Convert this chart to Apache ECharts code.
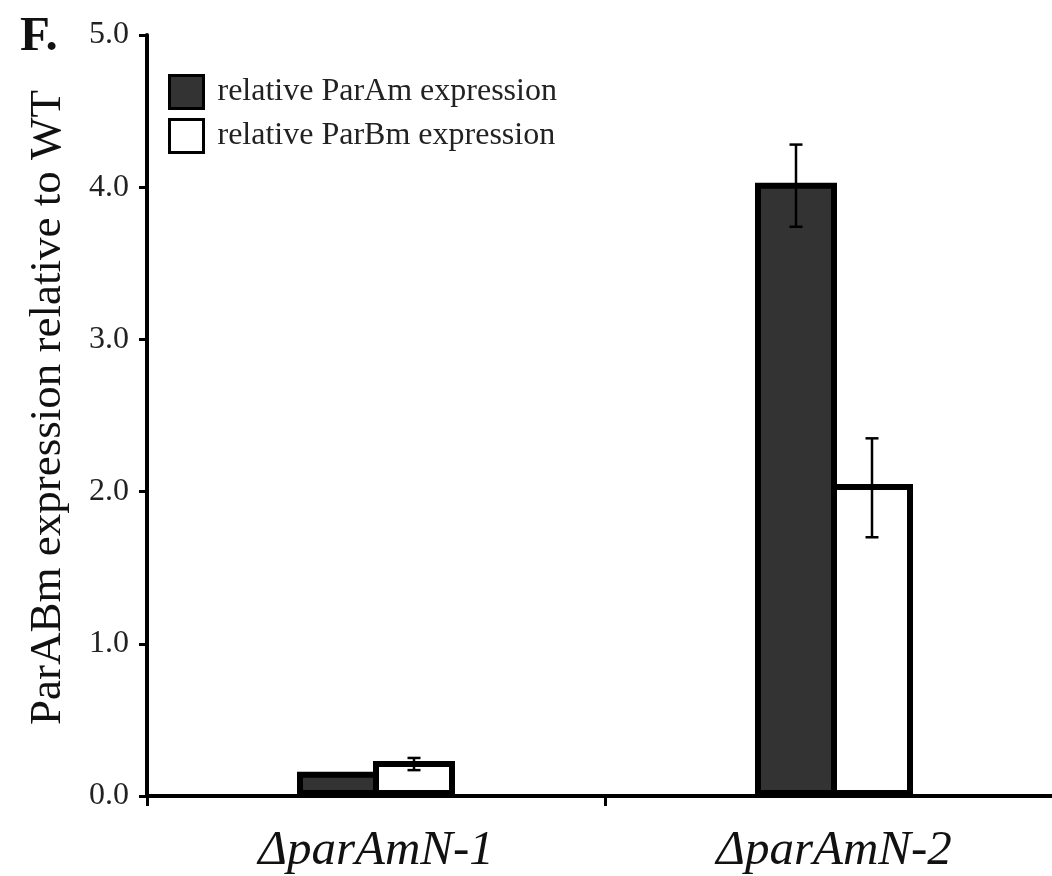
<!DOCTYPE html>
<html>
<head>
<meta charset="utf-8">
<title>ParABm expression</title>
<script src="https://cdn.jsdelivr.net/npm/echarts@6/dist/echarts.min.js"></script>
</head>
<body style="margin:0;background:#fff;overflow:hidden">
<!-- the x axis runs a little past the right edge of the figure, so the canvas is wider than the window -->
<div id="main" style="width:1063px;height:876px;"></div>
<script>
// data
var strains = ['\u0394parAmN-1', '\u0394parAmN-2'];
var parAm = [0.16, 4.03];
var parAmLow = [null, 3.74];
var parAmHigh = [null, 4.28];
var parBm = [0.23, 2.05];
var parBmLow = [0.17, 1.70];
var parBmHigh = [0.25, 2.35];
var yTicks = [0, 1, 2, 3, 4, 5];

var BAR_W = 82;
var FONT = "'Liberation Serif', 'DejaVu Serif', serif";

function errData(lows, highs) {
    var out = [];
    lows.forEach(function (lo, i) {
        if (lo != null) out.push([i, lo, highs[i]]);
    });
    return out;
}

// whisker drawn at the bar centre (shift = +-half bar width)
function errRenderer(shift) {
    return function (params, api) {
        var lo = api.coord([api.value(0), api.value(1)]);
        var hi = api.coord([api.value(0), api.value(2)]);
        var x = lo[0] + shift, cap = 6.5;
        var st = { stroke: '#000', lineWidth: 2.5 };
        return {
            type: 'group',
            children: [
                { type: 'line', shape: { x1: x, y1: lo[1], x2: x, y2: hi[1] }, style: st },
                { type: 'line', shape: { x1: x - cap, y1: hi[1], x2: x + cap, y2: hi[1] }, style: st },
                { type: 'line', shape: { x1: x - cap, y1: lo[1], x2: x + cap, y2: lo[1] }, style: st }
            ]
        };
    };
}

var chart = echarts.init(document.getElementById('main'));
chart.setOption({
    backgroundColor: '#fff',
    animation: false,
    title: {
        text: 'F.',
        left: 15, top: 8,
        textStyle: { fontFamily: FONT, fontSize: 49, fontWeight: 'bold', color: '#111' }
    },
    legend: {
        orient: 'vertical',
        left: 168, top: 74, padding: 0,
        itemWidth: 34, itemHeight: 33, itemGap: 8,
        icon: 'rect',
        itemStyle: { borderWidth: 3, borderColor: '#000' },
        textStyle: { fontFamily: FONT, fontSize: 32, color: '#222', padding: [0, 0, 0, 9] },
        data: ['relative ParAm expression', 'relative ParBm expression']
    },
    grid: { left: 147, top: 35, bottom: 78.5, right: 0 },
    xAxis: {
        type: 'category',
        data: strains,
        axisLine: { lineStyle: { color: '#000', width: 4 } },
        axisTick: { show: true, length: 10, lineStyle: { color: '#000', width: 3 } },
        axisLabel: { margin: 31, fontFamily: FONT, fontStyle: 'italic', fontSize: 49, color: '#111' }
    },
    yAxis: {
        type: 'value',
        min: yTicks[0], max: yTicks[yTicks.length - 1], interval: 1,
        name: 'ParABm expression relative to WT',
        nameLocation: 'middle',
        nameGap: 76,
        nameTextStyle: { fontFamily: FONT, fontSize: 45, color: '#111', padding: [0, 0, 0, 16] },
        axisLine: { show: true, lineStyle: { color: '#000', width: 4 } },
        axisTick: { show: true, length: 8, lineStyle: { color: '#000', width: 3 } },
        splitLine: { show: false },
        axisLabel: {
            margin: 18, fontFamily: FONT, fontSize: 32, color: '#222',
            formatter: function (v) { return v.toFixed(1); }
        }
    },
    series: [
        {
            name: 'relative ParAm expression', type: 'bar', data: parAm,
            barWidth: BAR_W, barGap: '-7.3%',
            itemStyle: { color: '#333', borderColor: '#000', borderWidth: 6 }
        },
        {
            name: 'relative ParBm expression', type: 'bar', data: parBm,
            barWidth: BAR_W, barGap: '-7.3%',
            itemStyle: { color: '#fff', borderColor: '#000', borderWidth: 6 }
        },
        {
            type: 'custom', data: errData(parAmLow, parAmHigh), z: 10,
            renderItem: errRenderer(-BAR_W / 2 + 3), silent: true
        },
        {
            type: 'custom', data: errData(parBmLow, parBmHigh), z: 10,
            renderItem: errRenderer(BAR_W / 2 - 3), silent: true
        }
    ]
});
</script>
</body>
</html>
